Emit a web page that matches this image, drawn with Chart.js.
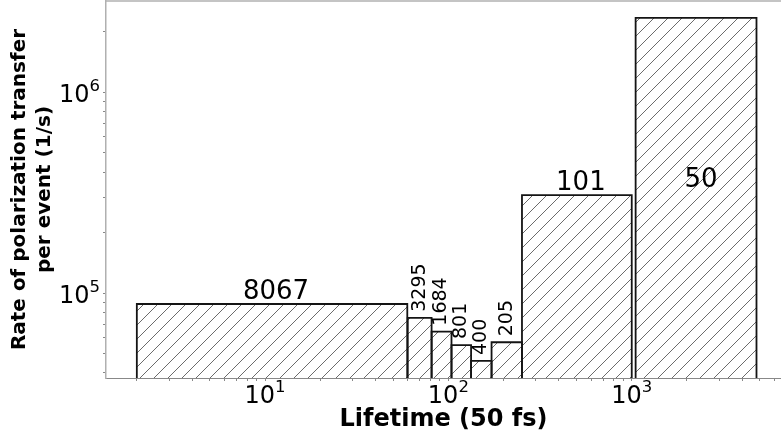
<!DOCTYPE html>
<html>
<head>
<meta charset="utf-8">
<title>Rate of polarization transfer per event</title>
<script src="https://cdn.jsdelivr.net/npm/chart.js@4.4.1/dist/chart.umd.min.js"></script>
<style>
    body { margin: 0; background: #ffffff; }
    canvas { display: block; }
</style>
</head>
<body>
<canvas id="lifetimeChart" width="781" height="441"></canvas>
<script>
// Lifetime bins (units of 50 fs)
var binLeft = [2.0, 60, 81, 104, 133, 172, 252, 1050];
var binRight = [59.7, 81, 104, 133, 172, 252, 1000, 4790];
// Rate of polarization transfer per event (1/s)
var rates = [88200, 75300, 64200, 55100, 45900, 56900, 307000, 2343000];
// Number of events in each bin
var counts = [8067, 3295, 1684, 801, 400, 205, 101, 50];

var xTicks = [2, 3, 4, 5, 6, 7, 8, 9, 10, 20, 30, 40, 50, 60, 70, 80, 90,
              100, 200, 300, 400, 500, 600, 700, 800, 900, 1000, 2000, 3000, 4000, 5000, 6000];
var yTicks = [40000, 50000, 60000, 70000, 80000, 90000, 100000,
              200000, 300000, 400000, 500000, 600000, 700000, 800000, 900000, 1000000, 2000000];

var X_MIN = 1.358, X_MAX = 6516;
var Y_MIN = 37760, Y_MAX = 2845000;
var FONT = '"DejaVu Sans", "Liberation Sans", sans-serif';

// Diagonal hatch pattern like matplotlib's '//'
function makeHatch() {
    var size = 14;
    var tile = document.createElement('canvas');
    tile.width = size;
    tile.height = size;
    var c = tile.getContext('2d');
    c.strokeStyle = '#5a5a5a';
    c.lineWidth = 0.9;
    c.beginPath();
    c.moveTo(-2, size + 2);
    c.lineTo(size + 2, -2);
    c.moveTo(-2, 2);
    c.lineTo(2, -2);
    c.moveTo(size - 2, size + 2);
    c.lineTo(size + 2, size - 2);
    c.stroke();
    return document.getElementById('lifetimeChart').getContext('2d').createPattern(tile, 'repeat');
}

// exponent of a power of ten, or null
function powerOf(value) {
    var e = Math.log10(value);
    if (Math.abs(e - Math.round(e)) > 1e-9) {
        return null;
    }
    return Math.round(e);
}

var hatch = makeHatch();
var datasets = counts.map(function(n, i) {
    return {
        label: String(n),
        data: [
            {x: binLeft[i], y: Y_MIN},
            {x: binLeft[i], y: rates[i]},
            {x: binRight[i], y: rates[i]},
            {x: binRight[i], y: Y_MIN}
        ],
        fill: 'start',
        backgroundColor: hatch,
        borderColor: '#141414',
        borderWidth: 1.8,
        pointRadius: 0,
        tension: 0
    };
});

// Count labels above (or rotated above / inside) each bar
var barLabels = {
    id: 'barLabels',
    afterDatasetsDraw: function(chart) {
        var ctx = chart.ctx;
        var x = chart.scales.x;
        var y = chart.scales.y;
        var area = chart.chartArea;
        ctx.save();
        ctx.fillStyle = '#000000';
        counts.forEach(function(n, i) {
            var px0 = x.getPixelForValue(binLeft[i]);
            var px1 = x.getPixelForValue(binRight[i]);
            var top = y.getPixelForValue(rates[i]);
            var cx = (px0 + px1) / 2;
            var text = String(n);
            ctx.font = '26px ' + FONT;
            var w = ctx.measureText(text).width;
            if (w > px1 - px0) {
                ctx.font = '19px ' + FONT;
                ctx.save();
                ctx.translate(cx, top - 6);
                ctx.rotate(-Math.PI / 2);
                ctx.textAlign = 'left';
                ctx.textBaseline = 'middle';
                ctx.fillText(text, 0, 0);
                ctx.restore();
            } else if (top - 30 < area.top) {
                ctx.textAlign = 'center';
                ctx.textBaseline = 'middle';
                ctx.fillText(text, cx + 5, top + 0.45 * (area.bottom - top));
            } else {
                ctx.textAlign = 'center';
                ctx.textBaseline = 'alphabetic';
                ctx.fillText(text, cx + 4, top - 5);
            }
        });
        ctx.restore();
    }
};

// Top spine and 10^n tick labels with a real superscript
var frame = {
    id: 'frame',
    afterDraw: function(chart) {
        var ctx = chart.ctx;
        var area = chart.chartArea;
        ctx.save();
        ctx.strokeStyle = '#b0b0b0';
        ctx.lineWidth = 1.5;
        ctx.beginPath();
        ctx.moveTo(area.left, area.top);
        ctx.lineTo(area.right, area.top);
        ctx.stroke();

        ctx.fillStyle = '#000000';
        ctx.textBaseline = 'alphabetic';
        ctx.textAlign = 'left';
        function drawPower(exp, left, baseline) {
            ctx.font = '24px ' + FONT;
            ctx.fillText('10', left, baseline);
            var w = ctx.measureText('10').width;
            ctx.font = '16.5px ' + FONT;
            ctx.fillText(String(exp), left + w, baseline - 11);
        }
        function powerWidth(exp) {
            ctx.font = '24px ' + FONT;
            var w = ctx.measureText('10').width;
            ctx.font = '16.5px ' + FONT;
            return w + ctx.measureText(String(exp)).width;
        }
        xTicks.forEach(function(v) {
            var exp = powerOf(v);
            if (exp === null) return;
            var px = chart.scales.x.getPixelForValue(v);
            drawPower(exp, px - powerWidth(exp) / 2, area.bottom + 24.5);
        });
        yTicks.forEach(function(v) {
            var exp = powerOf(v);
            if (exp === null) return;
            var py = chart.scales.y.getPixelForValue(v);
            drawPower(exp, area.left - 6 - powerWidth(exp), py + 10);
        });
        ctx.restore();
    }
};

new Chart(document.getElementById('lifetimeChart'), {
    type: 'line',
    data: { datasets: datasets },
    options: {
        responsive: false,
        devicePixelRatio: 1,
        animation: false,
        layout: { padding: { top: 1, right: 0, bottom: 0, left: 0 } },
        plugins: {
            legend: { display: false },
            tooltip: { enabled: false }
        },
        scales: {
            x: {
                type: 'logarithmic',
                min: X_MIN,
                max: X_MAX,
                afterBuildTicks: function(scale) {
                    scale.ticks = xTicks.map(function(v) { return {value: v}; });
                },
                afterFit: function(scale) {
                    scale.height = 63;
                    scale.paddingLeft = 0;
                    scale.paddingRight = 0;
                },
                ticks: {
                    autoSkip: false,
                    maxRotation: 0,
                    callback: function() { return ''; }
                },
                grid: {
                    drawOnChartArea: false,
                    drawTicks: true,
                    tickLength: 3,
                    color: '#888888'
                },
                border: { display: true, color: '#888888', width: 1 },
                title: {
                    display: true,
                    text: 'Lifetime (50 fs)',
                    color: '#000000',
                    font: { family: FONT, size: 24, weight: 'bold', lineHeight: 1.2 },
                    padding: { top: 0, bottom: 7 }
                }
            },
            y: {
                type: 'logarithmic',
                min: Y_MIN,
                max: Y_MAX,
                afterBuildTicks: function(scale) {
                    scale.ticks = yTicks.map(function(v) { return {value: v}; });
                },
                afterFit: function(scale) {
                    scale.width = 106;
                    scale.paddingTop = 0;
                    scale.paddingBottom = 0;
                },
                ticks: {
                    autoSkip: false,
                    callback: function() { return ''; }
                },
                grid: {
                    drawOnChartArea: false,
                    drawTicks: true,
                    tickLength: 3,
                    color: '#888888'
                },
                border: { display: true, color: '#b0b0b0', width: 1.5 },
                title: {
                    display: true,
                    text: ['Rate of polarization transfer', 'per event (1/s)'],
                    color: '#000000',
                    font: { family: FONT, size: 20, weight: 'bold', lineHeight: 1.25 },
                    padding: { top: 7.5, bottom: 0 }
                }
            }
        }
    },
    plugins: [barLabels, frame]
});
</script>
</body>
</html>
